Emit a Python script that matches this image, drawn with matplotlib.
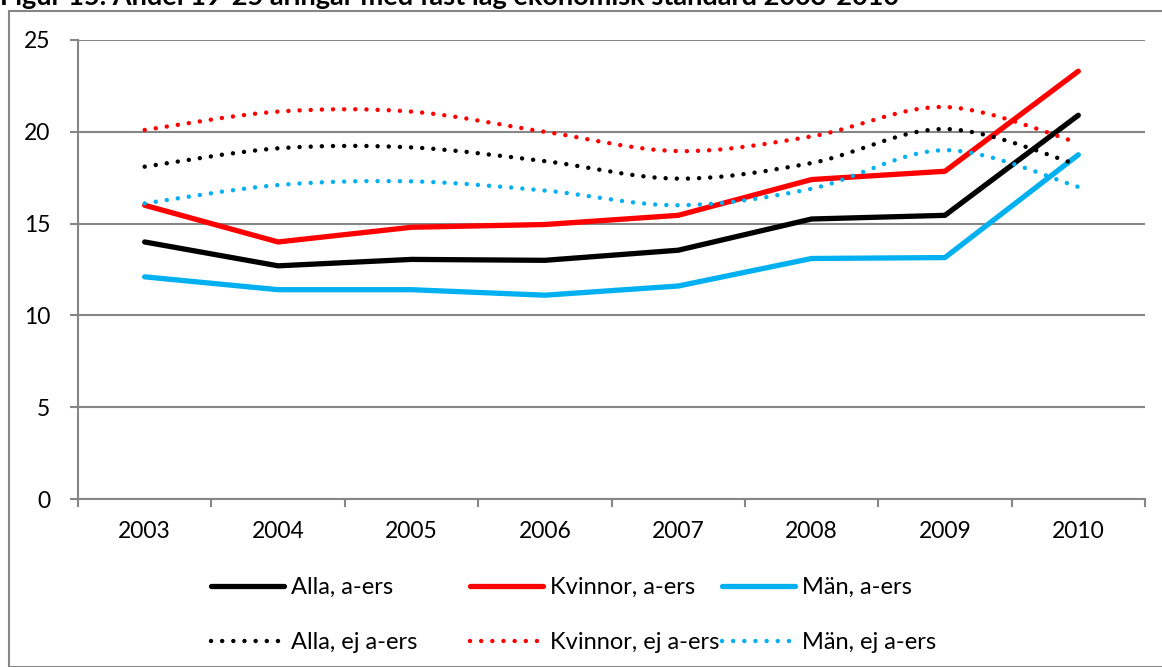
import numpy as np
import matplotlib
matplotlib.use('Agg')
import matplotlib.pyplot as plt
from matplotlib.path import Path
from matplotlib.patches import PathPatch, Rectangle
from matplotlib.lines import Line2D

plt.rcParams['font.family'] = ['Lato', 'DejaVu Sans']

# Data
years = ['2003', '2004', '2005', '2006', '2007', '2008', '2009', '2010']
alla_aers = [14.0, 12.7, 13.05, 13.0, 13.55, 15.25, 15.45, 20.9]
kvinnor_aers = [16.0, 14.0, 14.8, 14.95, 15.45, 17.4, 17.85, 23.3]
man_aers = [12.1, 11.4, 11.4, 11.1, 11.6, 13.1, 13.15, 18.75]
alla_ej = [18.1, 19.1, 19.15, 18.4, 17.45, 18.3, 20.15, 18.2]
kvinnor_ej = [20.1, 21.1, 21.1, 20.0, 18.95, 19.75, 21.35, 19.4]
man_ej = [16.1, 17.1, 17.3, 16.8, 16.0, 16.9, 19.0, 17.0]

BLACK = '#000000'
RED = '#FF0000'
BLUE = '#00B0F0'
GRID = '#868686'


def smooth_path(xs, ys):
    # Excel-style smoothed line: cubic Bezier segments through the points
    pts = np.column_stack([xs, ys]).astype(float)
    n = len(pts)
    verts = [pts[0]]
    codes = [Path.MOVETO]
    for i in range(n - 1):
        p0 = pts[i - 1] if i > 0 else pts[i]
        p1 = pts[i]
        p2 = pts[i + 1]
        p3 = pts[i + 2] if i + 2 < n else pts[i + 1]
        c1 = p1 + (p2 - p0) / 6.0
        c2 = p2 - (p3 - p1) / 6.0
        verts += [c1, c2, p2]
        codes += [Path.CURVE4] * 3
    return Path(verts, codes)


fig = plt.figure(figsize=(11.62, 6.67), dpi=100)
W, H = 1162, 667

# chart frame
fig.patches.append(Rectangle((9 / W, 0), 1.5, 1 - 11 / H, transform=fig.transFigure,
                             fill=False, edgecolor=GRID, linewidth=1.5, clip_on=False))

# title (partly cut off at top, as in the source)
fig.text(0.0, 1 - 5 / H, 'Figur 15. Andel 19-25 åringar med fast låg ekonomisk standard 2003-2010',
         fontsize=19.5, fontweight='bold', ha='left', va='baseline')

ax = fig.add_axes([78 / W, 1 - 499 / H, (1145 - 78) / W, (499 - 40) / H])
x = np.arange(len(years))

lw_solid = 3.8
lw_dot = 3.2
dot_style = (0, (0.01, 2.5))

ax.plot(x, alla_aers, color=BLACK, lw=lw_solid, solid_capstyle='round', zorder=3)
ax.plot(x, kvinnor_aers, color=RED, lw=lw_solid, solid_capstyle='round', zorder=3)
ax.plot(x, man_aers, color=BLUE, lw=lw_solid, solid_capstyle='round', zorder=3)

for vals, col in [(alla_ej, BLACK), (kvinnor_ej, RED), (man_ej, BLUE)]:
    patch = PathPatch(smooth_path(x, vals), fill=False, edgecolor=col, linewidth=lw_dot,
                      linestyle=dot_style, capstyle='round', zorder=3)
    ax.add_patch(patch)

ax.set_xlim(-0.5, len(years) - 0.5)
ax.set_ylim(0, 25)
ax.set_yticks([0, 5, 10, 15, 20, 25])
ax.set_xticks(x)
ax.set_xticklabels(years)
ax.set_xticks(np.arange(-0.5, len(years)), minor=True)
ax.tick_params(axis='x', which='major', length=0, pad=16, labelsize=16.5)
ax.tick_params(axis='x', which='minor', length=6, width=1.5, color=GRID)
ax.tick_params(axis='y', length=6, width=1.5, color=GRID, pad=14, labelsize=16.5)
ax.grid(axis='y', color=GRID, linewidth=1.5)
ax.set_axisbelow(True)
for s in ['top', 'right']:
    ax.spines[s].set_visible(False)
for s in ['left', 'bottom']:
    ax.spines[s].set_color(GRID)
    ax.spines[s].set_linewidth(1.5)

# legend: three columns, solid on first row, dotted on second
entries = [
    (BLACK, 'Alla, a-ers', 'Alla, ej a-ers', 211),
    (RED, 'Kvinnor, a-ers', 'Kvinnor, ej a-ers', 470),
    (BLUE, 'Män, a-ers', 'Män, ej a-ers', 722),
]
for col, lab1, lab2, px in entries:
    h1 = Line2D([], [], color=col, lw=lw_solid, solid_capstyle='round')
    h2 = Line2D([], [], color=col, lw=lw_dot, linestyle=dot_style, dash_capstyle='round')
    fig.legend([h1, h2], [lab1, lab2], loc='upper left', bbox_to_anchor=(px / W, 1 - 577 / H),
               frameon=False, fontsize=17, handlelength=3.1, handletextpad=0.3,
               labelspacing=1.45, borderpad=0, borderaxespad=0)

fig.savefig('out.png', dpi=100)
